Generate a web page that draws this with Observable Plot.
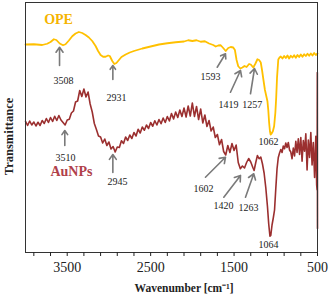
<!DOCTYPE html>
<html>
<head>
<meta charset="utf-8">
<script src="https://cdn.jsdelivr.net/npm/d3@7"></script>
<script src="https://cdn.jsdelivr.net/npm/@observablehq/plot@0.6"></script>
<style>
  html, body { margin: 0; padding: 0; background: #fff; overflow: hidden; }
</style>
</head>
<body>
<div id="chart"></div>
<script>
// ---- Data (wavenumber in cm^-1, transmittance in arbitrary units) ----
const opeWave = [4000,3900,3800,3740,3700,3660,3630,3590,3550,3520,3480,3440,3400,3360,3320,3280,3240,3200,3160,3130,3100,3070,3040,3010,2990,2960,2935,2910,2880,2850,2800,2750,2700,2600,2500,2400,2300,2200,2100,2050,2000,1950,1900,1850,1800,1750,1720,1690,1660,1630,1600,1570,1540,1510,1490,1470,1450,1425,1400,1375,1350,1320,1300,1270,1245,1220,1200,1180,1165,1150,1130,1110,1100,1090,1080,1070,1062,1050,1035,1020,1005,995,985,970,955,940,920,900,880,860,840,820,800,780,760,740,720,700,680,660,640,620,600,580,560,540,520,500];
const opeT    = [83.2,83.3,83.0,83.5,84.2,85.3,85.0,83.6,82.9,83.3,84.8,86.5,87.6,88.2,87.8,87.0,86.0,84.6,82.6,80.6,79.0,78.3,78.3,78.8,78.6,76.6,75.4,75.8,77.0,78.2,79.2,80.0,80.6,81.6,82.4,83.2,83.7,84.1,84.4,84.9,84.6,84.9,84.3,84.5,83.6,83.0,82.4,82.8,82.9,81.8,80.6,81.8,82.2,82.0,81.0,77.0,74.5,73.6,74.0,74.6,74.2,75.4,75.2,74.0,75.5,77.3,77.0,76.0,73.0,69.5,65.0,62.0,60.5,57.0,52.0,48.5,47.2,47.6,48.5,50.5,56.0,62.0,70.0,77.2,78.0,78.4,77.6,78.6,77.8,78.8,77.6,78.7,78.0,78.9,77.9,79.0,78.2,79.2,78.3,79.3,78.6,79.5,78.7,79.6,78.8,79.8,79.0,79.6];

const auWave = [4000,3975,3950,3925,3900,3875,3850,3825,3800,3775,3750,3725,3700,3675,3650,3625,3600,3575,3550,3525,3500,3475,3450,3425,3400,3375,3350,3325,3300,3275,3250,3225,3200,3175,3150,3125,3100,3075,3050,3025,3000,2975,2950,2925,2900,2875,2850,2825,2800,2775,2750,2725,2700,2675,2650,2625,2600,2575,2550,2525,2500,2475,2450,2425,2400,2375,2350,2325,2300,2275,2250,2225,2200,2175,2150,2125,2100,2075,2050,2025,2000,1975,1950,1925,1900,1875,1850,1825,1800,1775,1750,1725,1700,1675,1650,1625,1600,1575,1550,1525,1500,1475,1450,1425,1400,1375,1350,1325,1300,1275,1260,1240,1220,1200,1180,1160,1140,1120,1100,1085,1070,1060,1045,1030,1015,1000,985,970,955,940,925,910,895,880,865,850,835,820,805,790,775,760,745,730,715,700,685,670,655,640,625,610,595,580,565,550,535,520,510,505,502,500];
const auT    = [52.5,50.8,52.6,51.0,52.2,50.6,52.1,50.8,52.8,51.6,53.6,52.0,54.0,52.4,54.5,52.8,54.8,53.0,52.0,51.0,53.0,53.3,55.8,56.6,60.2,60.6,64.8,62.4,65.4,62.2,64.2,59.4,56.2,51.6,49.2,46.6,46.2,43.8,45.4,42.8,44.2,41.4,42.4,40.2,42.2,42.0,44.7,43.6,46.2,44.8,47.0,45.6,48.0,46.6,49.3,47.8,50.2,48.9,51.0,49.6,52.0,50.5,52.7,51.0,53.2,51.5,53.8,52.0,54.4,52.6,55.6,53.4,56.2,54.0,57.0,54.4,57.8,54.2,58.6,54.6,59.8,54.4,58.4,53.2,57.4,51.8,55.0,50.4,52.8,48.6,50.2,46.0,47.2,43.1,45.2,40.4,39.0,42.8,40.0,43.6,40.8,43.0,36.0,33.5,34.6,33.8,36.0,37.6,36.2,34.0,32.8,36.0,38.8,37.5,38.2,35.5,31.8,26.0,18.5,11.5,6.5,6.8,11.0,13.8,17.0,25.5,33.5,38.0,39.8,41.2,40.0,42.6,41.5,43.8,42.0,44.0,41.0,40.2,37.5,41.8,38.6,44.5,40.0,45.5,39.2,46.0,36.5,44.8,40.5,47.5,33.0,45.0,38.0,48.0,35.0,44.0,30.0,46.5,27.0,25.0,72.0,9.6];

// Peak annotations
const opeArrows = [
  {label: "3508", x1: 3592, y1: 74.8, x2: 3592, y2: 82.1, lx: 3545, ly: 68.8},
  {label: "2931", x1: 2953, y1: 69.2, x2: 2953, y2: 74.8, lx: 2909, ly: 62.0},
  {label: "1593", x1: 1702, y1: 74.1, x2: 1603, y2: 79.5, lx: 1783, ly: 70.4},
  {label: "1419", x1: 1543, y1: 64.1, x2: 1423, y2: 72.8, lx: 1567, ly: 59.1},
  {label: "1257", x1: 1303, y1: 63.5, x2: 1255, y2: 73.6, lx: 1283, ly: 59.1}
];
const auArrows = [
  {label: "3510", x1: 3529, y1: 42.8, x2: 3529, y2: 48.8, lx: 3521, ly: 38.0},
  {label: "2945", x1: 2953, y1: 32.0, x2: 2953, y2: 39.2, lx: 2897, ly: 28.4},
  {label: "1602", x1: 1843, y1: 30.1, x2: 1603, y2: 38.1, lx: 1867, ly: 25.4},
  {label: "1420", x1: 1623, y1: 22.1, x2: 1423, y2: 30.8, lx: 1627, ly: 18.8},
  {label: "1263", x1: 1363, y1: 22.1, x2: 1264, y2: 31.5, lx: 1327, ly: 17.8}
];
const plainLabels = [
  {label: "1062", lx: 1087, ly: 44.2},
  {label: "1064", lx: 1087, ly: 3.2}
];
const seriesLabels = [
  {label: "OPE", x: 3604, y: 93.1, color: "#F5B400"},
  {label: "AuNPs", x: 3449, y: 32.5, color: "#B0404A"}
];
const tickValues = [3900,3700,3500,3300,3100,2900,2700,2500,2300,2100,1900,1700,1500,1300,1100,900,700,500];
const tickLabels = [3500, 2500, 1500, 500];

const ope = opeWave.map((w, i) => ({w, t: opeT[i]}));
const au = auWave.map((w, i) => ({w, t: auT[i]}));
const arrows = opeArrows.concat(auArrows);
const textLabels = arrows.concat(plainLabels);

const chart = Plot.plot({
  width: 329,
  height: 298,
  marginLeft: 25,
  marginRight: 12,
  marginTop: 2,
  marginBottom: 46,
  style: {fontFamily: "'Liberation Serif', 'Times New Roman', serif", background: "#fff", color: "#222"},
  x: {domain: [4000, 500]},
  y: {domain: [0, 100], axis: null},
  marks: [
    Plot.line(au, {x: "w", y: "t", stroke: "#9B2F2F", strokeWidth: 1.6, strokeLinejoin: "round"}),
    Plot.line(ope, {x: "w", y: "t", stroke: "#FFC000", strokeWidth: 1.8, strokeLinejoin: "round"}),
    Plot.arrow(arrows, {x1: "x1", y1: "y1", x2: "x2", y2: "y2", stroke: "#7a7a7a", strokeWidth: 1.6, headLength: 6, headAngle: 70}),
    Plot.text(textLabels, {x: "lx", y: "ly", text: "label", fontSize: 10, fill: "#222"}),
    Plot.text(seriesLabels, {x: "x", y: "y", text: "label", fill: "color", fontSize: 14, fontWeight: "bold"}),
    Plot.frame({stroke: "#333"}),
    Plot.axisX({ticks: tickValues, tickFormat: d => tickLabels.includes(d) ? String(d) : "", tickSize: 4, tickPadding: 6, fontSize: 14, label: null, stroke: "#222"}),
    Plot.text(["Wavenumber [cm\u207B\u00B9]"], {x: 2100, frameAnchor: "bottom", dy: 39, text: d => d, fontSize: 11.5, fontWeight: "bold", fill: "#222"}),
    Plot.text(["Transmittance"], {y: 46.4, frameAnchor: "left", textAnchor: "middle", dx: -17, rotate: -90, text: d => d, fontSize: 12.5, fontWeight: "bold", fill: "#222"})
  ]
});
document.getElementById("chart").appendChild(chart);
</script>
</body>
</html>
